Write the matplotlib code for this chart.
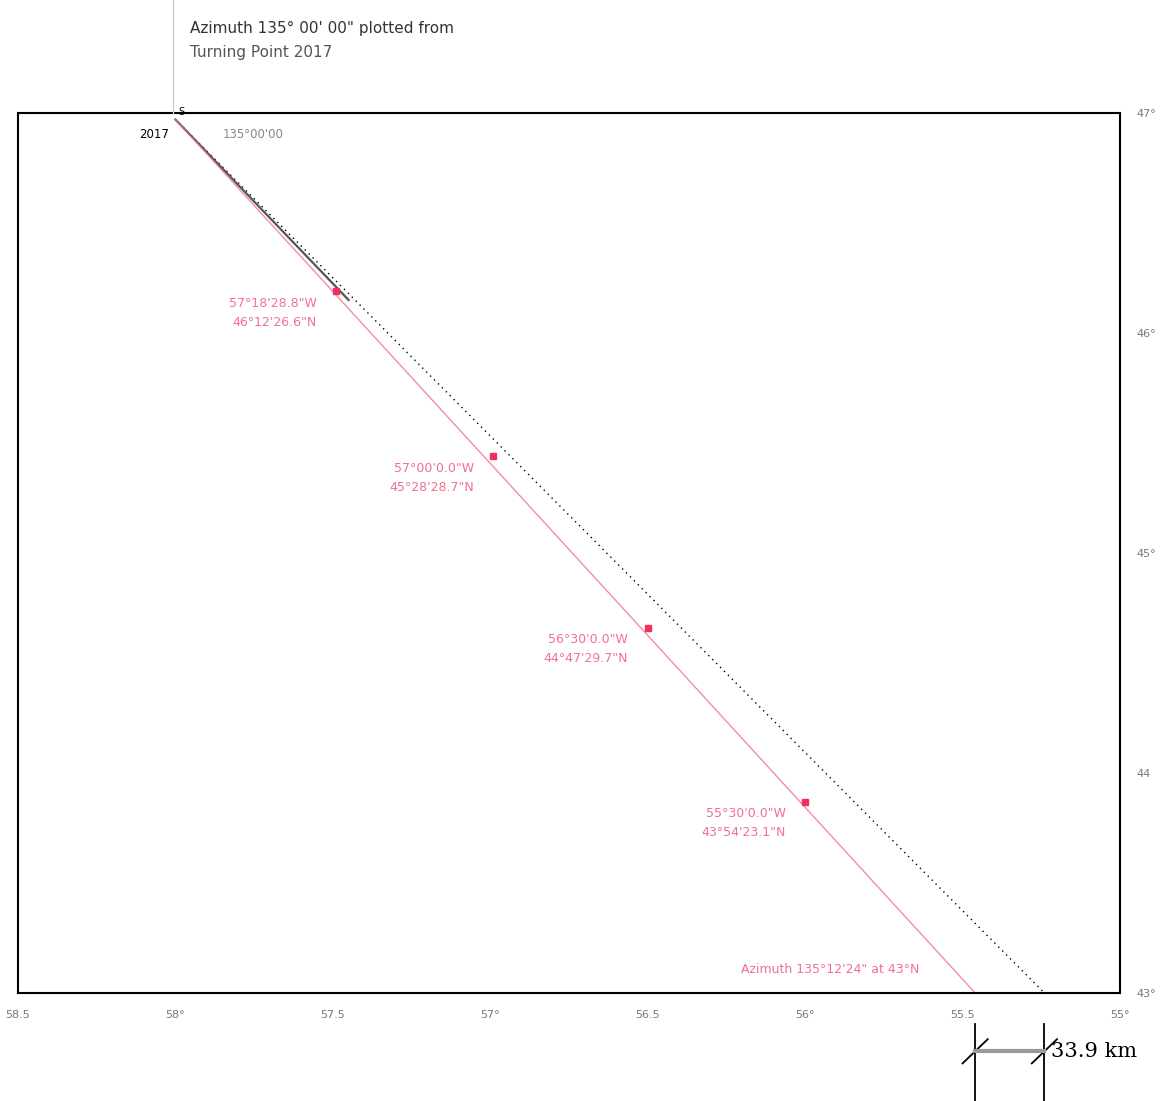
import numpy as np
import matplotlib
matplotlib.use('Agg')
import matplotlib.pyplot as plt

#%% data
lon_ticks = [-58.5, -58.0, -57.5, -57.0, -56.5, -56.0, -55.5, -55.0]
lon_labels = ['58.5', '58°', '57.5', '57°', '56.5', '56°', '55.5', '55°']
lat_ticks = [43, 44, 45, 46, 47]
lat_labels = ['43°', '44', '45°', '46°', '47°']

# azimuth line from turning point 2017 (red) and reference line (black)
start = (-58.0, 46.97)
red_end = (-55.46, 43.0)
black_end = (-55.24, 43.0)

pt_lon = [-57.49, -56.99, -56.50, -56.00]
pt_lat = [46.19, 45.44, 44.66, 43.87]
pt_lab = ['57°18\'28.8"W\n46°12\'26.6"N',
          '57°00\'0.0"W\n45°28\'28.7"N',
          '56°30\'0.0"W\n44°47\'29.7"N',
          '55°30\'0.0"W\n43°54\'23.1"N']

dist_km = '33.9 km'

#%% figure
fig = plt.figure(figsize=(11.63, 11.01), dpi=100)
ax = fig.add_axes([0.0155, 0.0981, 0.9475, 0.7993])
ax.set_xlim(-58.5, -55.0)
ax.set_ylim(43, 47)

pink = '#f2708e'

ax.plot([start[0], black_end[0]], [start[1], black_end[1]], color='k', lw=1.0,
        ls=(0, (1, 3)))
ax.plot([start[0], -57.45], [start[1], 46.15], color='#555555', lw=1.6)
ax.plot([start[0], red_end[0]], [start[1], red_end[1]], color=pink, lw=1.0, alpha=0.8)
ax.plot(pt_lon, pt_lat, 's', color='#f03060', ms=5)

for x, y, s in zip(pt_lon, pt_lat, pt_lab):
    ax.annotate(s, (x, y), xytext=(-14, -4), textcoords='offset points',
                ha='right', va='top', color=pink, fontsize=9, linespacing=1.6)

ax.annotate('Azimuth 135°12\'24" at 43°N', red_end, xytext=(-40, 12),
            textcoords='offset points', ha='right', va='bottom',
            color=pink, fontsize=9)

ax.text(start[0] - 0.02, start[1] - 0.04, '2017', ha='right', va='top',
        fontsize=8.5, color='k')
ax.text(start[0] + 0.01, start[1] + 0.01, 'S', ha='left', va='bottom',
        fontsize=7, color='k')
ax.text(start[0] + 0.15, start[1] - 0.04, '135°00\'00', ha='left', va='top',
        fontsize=8.5, color='#888888')

# ticks on right and bottom
ax.set_xticks(lon_ticks)
ax.set_xticklabels(lon_labels, fontsize=8, color='#777777')
ax.set_yticks(lat_ticks)
ax.set_yticklabels(lat_labels, fontsize=8, color='#777777')
ax.yaxis.tick_right()
ax.tick_params(length=0, pad=12)
for sp in ax.spines.values():
    sp.set_linewidth(1.5)

# title box with leader line
fig.add_artist(plt.Line2D([173 / 1163, 173 / 1163], [1.0, 1 - 113 / 1101],
                          color='#cccccc', lw=1))
fig.text(190 / 1163, 1 - 28 / 1101, 'Azimuth 135° 00\' 00" plotted from',
         fontsize=11, va='center', color='#333333')
fig.text(190 / 1163, 1 - 53 / 1101, 'Turning Point 2017',
         fontsize=11, va='center', color='#555555')

# distance measure below the frame
yb = 42.735
for x in (red_end[0], black_end[0]):
    ax.plot([x, x], [42.86, 42.50], color='k', lw=1.3, clip_on=False)
    ax.plot([x - 0.04, x + 0.04], [yb - 0.055, yb + 0.055], color='k', lw=1.3,
            clip_on=False)
ax.plot([red_end[0], black_end[0]], [yb, yb], color='#999999', lw=3,
        clip_on=False)
ax.text(black_end[0] + 0.02, yb, dist_km, ha='left', va='center',
        fontsize=15, family='DejaVu Serif', clip_on=False)

fig.savefig('out.png', dpi=100)
